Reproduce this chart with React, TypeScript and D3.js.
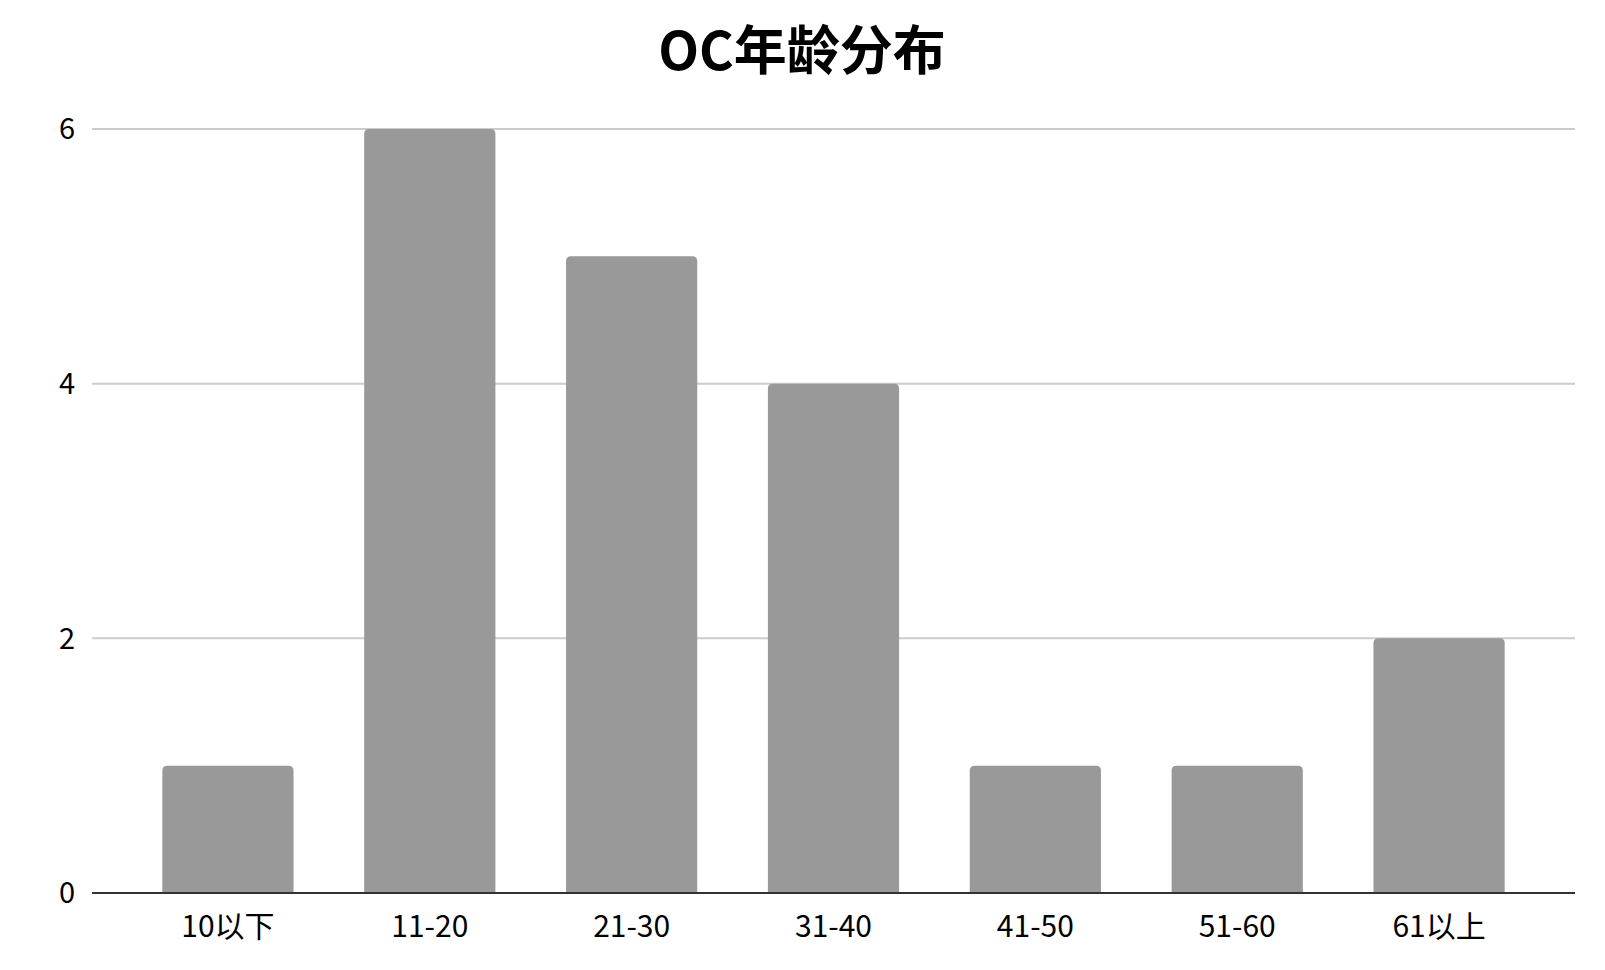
import React from "react";
import * as d3 from "d3";

const categories = ["10以下", "11-20", "21-30", "31-40", "41-50", "51-60", "61以上"];
const counts = [1, 6, 5, 4, 1, 1, 2];
const yTicks = [0, 2, 4, 6];
const title = "OC年龄分布";

const W = 1605;
const H = 970;
const axisLeft = 92;
const axisRight = 1575;
const barsLeft = 127;
const barsRight = 1540;
const yTop = 129;
const yBottom = 893;
const font = "'Noto Sans CJK SC', 'Noto Sans', sans-serif";

function topRoundedBar(x: number, y: number, w: number, h: number, r: number) {
  const rr = Math.min(r, h, w / 2);
  return `M${x},${y + h}V${y + rr}Q${x},${y} ${x + rr},${y}H${x + w - rr}Q${x + w},${y} ${x + w},${y + rr}V${y + h}Z`;
}

const App: React.FC = () => {
  const x = d3.scaleBand<string>().domain(categories).range([barsLeft, barsRight]).paddingInner(0.35).paddingOuter(0.175);
  const y = d3.scaleLinear().domain([0, 6]).range([yBottom, yTop]);

  return (
    <svg width={W} height={H} style={{ position: "absolute", left: 0, top: 0, background: "#fff" }}>
      <text x={802} y={70} textAnchor="middle" fontFamily={font} fontWeight={700} fontSize={53} fill="#000">
        {title}
      </text>
      {yTicks.map((t) => (
        <g key={t}>
          {t !== 0 && (
            <line x1={axisLeft} x2={axisRight} y1={y(t)} y2={y(t)} stroke="#cccccc" strokeWidth={2} />
          )}
          <text x={75} y={y(t)} dy="0.36em" textAnchor="end" fontFamily={font} fontSize={29} fill="#000">
            {t}
          </text>
        </g>
      ))}
      {categories.map((c, i) => (
        <path
          key={c}
          d={topRoundedBar(x(c)!, y(counts[i]), x.bandwidth(), yBottom - y(counts[i]), 5)}
          fill="#999999"
        />
      ))}
      <line x1={axisLeft} x2={axisRight} y1={yBottom} y2={yBottom} stroke="#333333" strokeWidth={2} />
      {categories.map((c) => (
        <text
          key={c}
          x={x(c)! + x.bandwidth() / 2}
          y={937}
          textAnchor="middle"
          fontFamily={font}
          fontSize={30}
          fill="#000"
        >
          {c}
        </text>
      ))}
    </svg>
  );
};

export default App;
